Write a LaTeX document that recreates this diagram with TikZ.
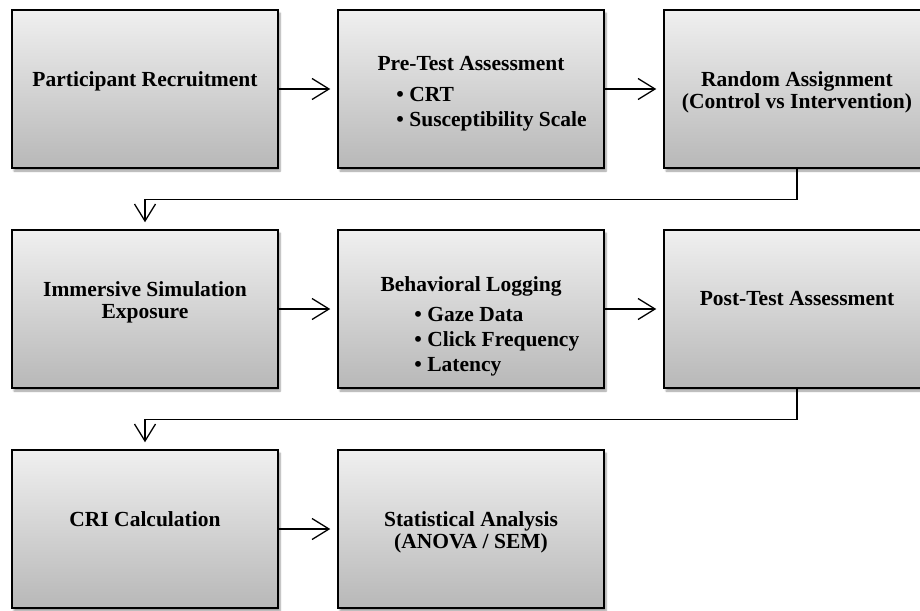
\documentclass[tikz,border=0pt]{standalone}
\usepackage{fontspec}
\setmainfont{Liberation Serif}
\usetikzlibrary{positioning,arrows.meta,shadows.blur}

\begin{document}
\begin{tikzpicture}[x=1pt,y=-1pt,
    stage/.style={draw=black,line width=1.5pt,minimum width=266pt,minimum height=158pt,
      top color=black!6,bottom color=black!28,
      blur shadow={shadow xshift=2pt,shadow yshift=-3pt,shadow blur steps=6,shadow opacity=40}},
    lbl/.style={inner sep=0pt,align=center,font=\fontsize{21.5}{22}\selectfont\bfseries},
    items/.style={lbl,align=left,anchor=north west},
    flow/.style={line width=1.3pt,-{Straight Barb[length=17pt,width=21pt,line width=1.3pt]},shorten >=7pt}]
  \useasboundingbox (0,0) rectangle (920,610);
  % boxes
  \node[stage] (rec)   at (145,89)  {};
  \node[stage] (pre)   at (471,89)  {};
  \node[stage] (rand)  at (797,89)  {};
  \node[stage] (immer) at (145,309) {};
  \node[stage] (beh)   at (471,309) {};
  \node[stage] (post)  at (797,309) {};
  \node[stage] (cri)   at (145,529) {};
  \node[stage] (stat)  at (471,529) {};
  % texts
  \node[lbl, below=62pt of rec.north]   {Participant Recruitment};
  \node[lbl, below=47pt of pre.north]   {Pre-Test Assessment};
  \node[items] at ([xshift=59pt,yshift=-78pt]pre.north west)
    {\textbullet\ CRT\\[3pt] \textbullet\ Susceptibility Scale};
  \node[lbl, below=62pt of rand.north]  {Random Assignment\\(Control vs Intervention)};
  \node[lbl, below=52pt of immer.north] {Immersive Simulation\\Exposure};
  \node[lbl, below=47pt of beh.north]   {Behavioral Logging};
  \node[items] at ([xshift=77pt,yshift=-78pt]beh.north west)
    {\textbullet\ Gaze Data\\[3pt] \textbullet\ Click Frequency\\[3pt] \textbullet\ Latency};
  \node[lbl, below=62pt of post.north]  {Post-Test Assessment};
  \node[lbl, below=62pt of cri.north]   {CRI Calculation};
  \node[lbl, below=62pt of stat.north]  {Statistical Analysis\\(ANOVA / SEM)};
  % arrows
  \draw[flow] (rec.east) -- (pre.west);
  \draw[flow] (pre.east) -- (rand.west);
  \draw[flow] (rand.south) -- ++(0,31) -| (immer.north);
  \draw[flow] (immer.east) -- (beh.west);
  \draw[flow] (beh.east) -- (post.west);
  \draw[flow] (post.south) -- ++(0,31) -| (cri.north);
  \draw[flow] (cri.east) -- (stat.west);
\end{tikzpicture}
\end{document}
